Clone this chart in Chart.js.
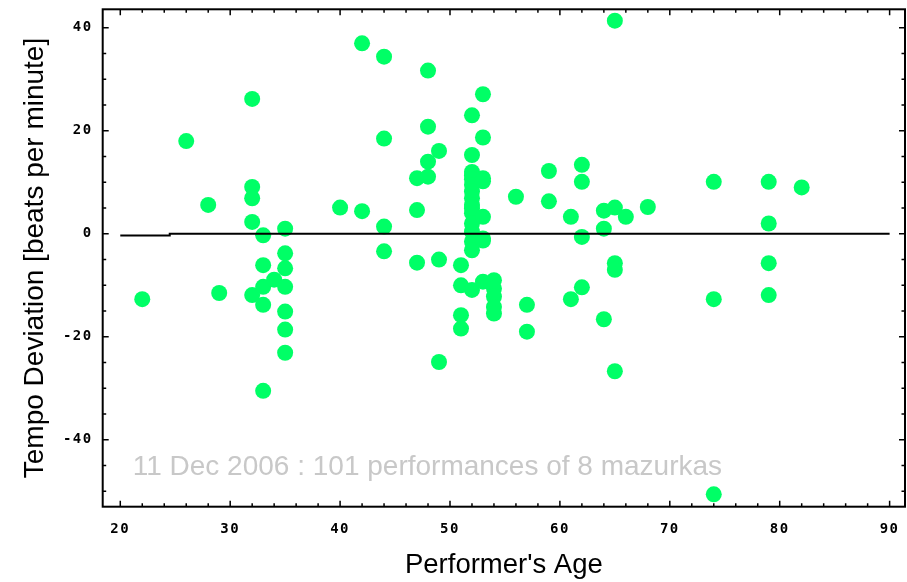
<!DOCTYPE html>
<html lang="en">
<head>
<meta charset="UTF-8">
<title>Tempo deviation by performer's age</title>
<script src="https://cdn.jsdelivr.net/npm/chart.js"></script>
<style>
  html, body { margin: 0; padding: 0; background: #fff; overflow: hidden; }
  canvas { display: block; }
</style>
</head>
<body>
<canvas id="grafica" width="907" height="582"></canvas>
<script>
// one entry per performance: performer's age and tempo deviation (bpm)
const ages = [
  22, 26, 28, 29,
  32, 32, 32, 32, 32,
  33, 33, 33, 33, 33,
  34,
  35, 35, 35, 35, 35, 35, 35,
  40, 42, 42,
  44, 44, 44, 44,
  47, 47, 47,
  48, 48, 48, 48,
  49, 49, 49,
  51, 51, 51, 51,
  52, 52, 52, 52, 52, 52, 52, 52, 52, 52, 52, 52, 52, 52, 52, 52,
  53, 53, 53, 53, 53, 53, 53, 53,
  54, 54, 54, 54, 54,
  56, 57, 57, 59, 59, 61, 61,
  62, 62, 62, 62,
  64, 64, 64,
  65, 65, 65, 65, 65,
  66, 68,
  74, 74, 74,
  79, 79, 79, 79,
  82
];
const deviations = [
  -12.7, 18.0, 5.6, -11.5,
  26.2, 9.1, 6.9, 2.3, -11.9,
  -0.3, -6.1, -10.3, -13.8, -30.5,
  -8.9,
  1.0, -3.8, -6.7, -10.3, -15.1, -18.6, -23.1,
  5.1, 37.0, 4.4,
  34.4, 18.5, 1.4, -3.4,
  10.8, 4.6, -5.6,
  31.7, 20.8, 14.0, 11.1,
  16.1, -5.0, -24.9,
  -6.1, -10.0, -15.8, -18.4,
  23.0, 15.3, 12.0, 11.3, 10.6, 9.5, 8.2, 6.9, 5.6, 4.9, 4.0, 2.0, 0.4, -1.5, -3.2, -10.9,
  27.1, 18.7, 10.8, 10.2, 3.3, -0.9, -1.3, -9.3,
  -9.0, -10.6, -12.2, -14.2, -15.5,
  7.2, -13.8, -19.0, 12.2, 6.3, 3.3, -12.7,
  13.4, 10.1, -0.6, -10.4,
  4.5, 1.0, -16.6,
  41.4, 5.1, -5.7, -7.0, -26.7,
  3.3, 5.2,
  10.1, -12.7, -50.6,
  10.1, 2.0, -5.7, -11.9,
  9.0
];

// trend line across the ages
const trendX = [20, 24.5, 24.5, 90];
const trendY = [-0.35, -0.35, 0, 0];

const xTicks = [20, 30, 40, 50, 60, 70, 80, 90];
const yTicks = [-40, -20, 0, 20, 40];

const nota = '11 Dec 2006 : 101 performances of 8 mazurkas';

const fuenteTicks = { family: 'DejaVu Sans Mono', size: 14, weight: 'bold' };

// frame with inward tick marks, note text, spaced tick labels
const marco = {
  id: 'marco',
  beforeDatasetsDraw(chart) {
    const { ctx, chartArea: a } = chart;
    ctx.save();
    ctx.fillStyle = '#c8c8c8';
    ctx.font = '28px "Liberation Sans"';
    ctx.textBaseline = 'alphabetic';
    ctx.fillText(nota, a.left + 30, a.bottom - 32);
    ctx.restore();
  },
  afterDatasetsDraw(chart) {
    chart.ctx.letterSpacing = '1.5px';
  },
  afterDraw(chart) {
    const { ctx, chartArea: a, scales: { x, y } } = chart;
    ctx.letterSpacing = '0px';
    ctx.save();
    ctx.strokeStyle = '#000';
    ctx.lineWidth = 2;
    ctx.strokeRect(a.left, a.top, a.right - a.left, a.bottom - a.top);
    ctx.lineWidth = 1.5;
    ctx.beginPath();
    for (let v = 20; v <= 90; v += 2) {
      const px = x.getPixelForValue(v);
      const len = v % 10 === 0 ? 6 : 3.5;
      ctx.moveTo(px, a.bottom); ctx.lineTo(px, a.bottom - len);
      ctx.moveTo(px, a.top); ctx.lineTo(px, a.top + len);
    }
    for (let v = -50; v <= 40; v += 5) {
      const py = y.getPixelForValue(v);
      const len = v % 20 === 0 ? 6 : 3.5;
      ctx.moveTo(a.left, py); ctx.lineTo(a.left + len, py);
      ctx.moveTo(a.right, py); ctx.lineTo(a.right - len, py);
    }
    ctx.stroke();
    ctx.restore();
  }
};

new Chart(document.getElementById('grafica'), {
  type: 'scatter',
  data: {
    datasets: [
      {
        label: 'trend',
        data: trendX.map((v, i) => ({ x: v, y: trendY[i] })),
        showLine: true,
        borderColor: '#000',
        borderWidth: 2,
        pointRadius: 0,
        order: 0
      },
      {
        label: 'performances',
        data: ages.map((v, i) => ({ x: v, y: deviations[i] })),
        backgroundColor: '#00ff66',
        borderWidth: 0,
        pointRadius: 8,
        order: 1
      }
    ]
  },
  options: {
    responsive: false,
    animation: false,
    devicePixelRatio: 1,
    layout: { autoPadding: false, padding: { top: 9.3, right: 2, left: 0, bottom: 0 } },
    plugins: { legend: { display: false }, tooltip: { enabled: false } },
    scales: {
      x: {
        type: 'linear',
        min: 18.4,
        max: 91.4,
        afterBuildTicks: s => { s.ticks = xTicks.map(v => ({ value: v })); },
        afterFit: s => { s.height = 75.3; s.paddingLeft = 0; s.paddingRight = 0; },
        grid: { display: false, drawTicks: false },
        border: { display: false },
        ticks: { font: fuenteTicks, color: '#000', padding: 13.9, z: 1, maxRotation: 0, autoSkip: false },
        title: { display: true, text: "Performer's Age", font: { family: 'Liberation Sans', size: 27.5 }, color: '#000', padding: { top: 0, bottom: 0 } }
      },
      y: {
        type: 'linear',
        min: -53,
        max: 43.6,
        afterBuildTicks: s => { s.ticks = yTicks.map(v => ({ value: v })); },
        afterFit: s => { s.width = 102.7; s.paddingTop = 0; s.paddingBottom = 0; },
        grid: { display: false, drawTicks: false },
        border: { display: false },
        ticks: { font: fuenteTicks, color: '#000', padding: 10, z: 1, autoSkip: false },
        title: { display: true, text: 'Tempo Deviation [beats per minute]', font: { family: 'Liberation Sans', size: 28 }, color: '#000', padding: { top: 18, bottom: 0 } }
      }
    }
  },
  plugins: [marco]
});
</script>
</body>
</html>
